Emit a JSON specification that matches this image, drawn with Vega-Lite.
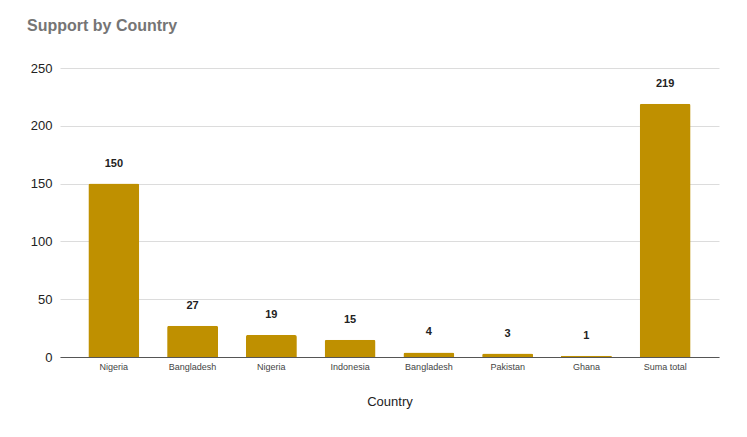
{
  "$schema": "https://vega.github.io/schema/vega-lite/v6.json",
  "width": 659,
  "height": 289,
  "autosize": {"type": "none"},
  "padding": {"left": 60, "top": 68, "right": 28, "bottom": 80},
  "background": "white",
  "title": {
    "text": "Support by Country",
    "anchor": "start",
    "frame": "group",
    "dx": -33,
    "offset": 28,
    "fontSize": 16,
    "fontWeight": "bold",
    "color": "#757575",
    "font": "Liberation Sans"
  },
  "data": {
    "values": [
      {"slot": "1|Nigeria", "value": 150},
      {"slot": "2|Bangladesh", "value": 27},
      {"slot": "3|Nigeria", "value": 19},
      {"slot": "4|Indonesia", "value": 15},
      {"slot": "5|Bangladesh", "value": 4},
      {"slot": "6|Pakistan", "value": 3},
      {"slot": "7|Ghana", "value": 1},
      {"slot": "8|Suma total", "value": 219}
    ]
  },
  "encoding": {
    "x": {
      "field": "slot",
      "type": "nominal",
      "sort": null,
      "title": "Country",
      "scale": {"paddingInner": 0.353, "paddingOuter": 0.36},
      "axis": {
        "labelExpr": "split(datum.label, '|')[1]",
        "labelAngle": 0,
        "labelFontSize": 9,
        "labelColor": "#444444",
        "labelFont": "Liberation Sans",
        "labelPadding": 5,
        "ticks": false,
        "domainColor": "#555555",
        "domainWidth": 1,
        "titleFont": "Liberation Sans",
        "titleFontSize": 13,
        "titleFontWeight": "normal",
        "titleColor": "#222222",
        "titlePadding": 24
      }
    },
    "y": {
      "field": "value",
      "type": "quantitative",
      "title": null,
      "scale": {"domain": [0, 250], "nice": false},
      "axis": {
        "values": [0, 50, 100, 150, 200, 250],
        "domain": false,
        "ticks": false,
        "labelPadding": 8,
        "labelFontSize": 13,
        "labelFont": "Liberation Sans",
        "labelColor": "#222222",
        "gridColor": "#dcdcdc",
        "gridWidth": 1
      }
    }
  },
  "layer": [
    {
      "mark": {"type": "bar", "color": "#bf9000", "cornerRadiusTopLeft": 2, "cornerRadiusTopRight": 2}
    },
    {
      "mark": {"type": "text", "dy": -20, "fontSize": 11, "fontWeight": "bold", "color": "#222222", "font": "Liberation Sans", "baseline": "middle"},
      "encoding": {"text": {"field": "value", "type": "quantitative"}}
    }
  ],
  "config": {"view": {"stroke": null}}
}
